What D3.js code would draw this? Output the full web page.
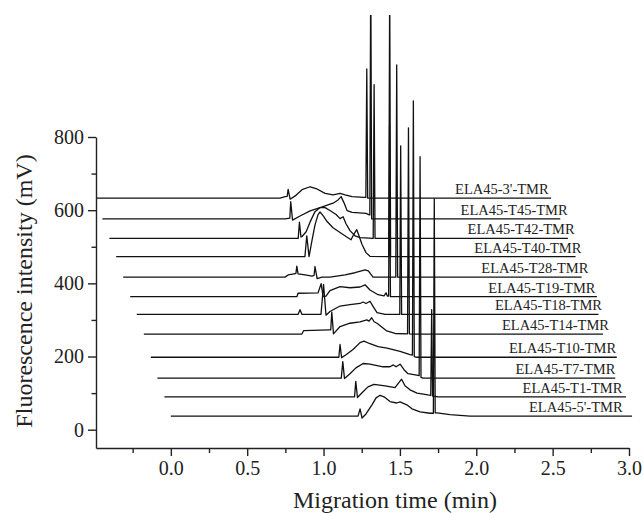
<!DOCTYPE html>
<html>
<head>
<meta charset="utf-8">
<script src="https://cdn.jsdelivr.net/npm/d3@7"></script>
<style>
  body { margin: 0; background: #fff; }
  svg text { font-family: "Liberation Serif", "Times New Roman", serif; fill: #222; }
</style>
</head>
<body>
<svg id="chart" width="643" height="513"></svg>
<script>
// samples, bottom trace first
const sampleNames = ["ELA45-5'-TMR", "ELA45-T1-TMR", "ELA45-T7-TMR", "ELA45-T10-TMR",
  "ELA45-T14-TMR", "ELA45-T18-TMR", "ELA45-T19-TMR", "ELA45-T28-TMR",
  "ELA45-T40-TMR", "ELA45-T42-TMR", "ELA45-T45-TMR", "ELA45-3'-TMR"];
// vertical offset of each trace (mV)
const baselineOffsets = [37, 90, 141, 198, 261, 315, 364, 417, 473, 523, 576, 633];
// first and last time of each trace (min, as plotted)
const startTimes = [0, -0.042, -0.088, -0.131, -0.177, -0.223, -0.266, -0.312, -0.358, -0.402, -0.448, -0.484];
const endTimes = [3.02, 2.98, 2.91, 2.92, 2.83, 2.80, 2.79, 2.69, 2.65, 2.60, 2.55, 2.49];

const xTicks = [0, 0.5, 1.0, 1.5, 2.0, 2.5, 3.0];
const xMinorTicks = [-0.25, 0.25, 0.75, 1.25, 1.75, 2.25, 2.75];
const yTicks = [0, 200, 400, 600, 800];
const yMinorTicks = [100, 300, 500, 700];

// [time, signal above own baseline]
const trace5p = [[1.226, 0], [1.239, 20], [1.252, -5], [1.278, 6], [1.317, 31], [1.344, 50], [1.370, 57],
  [1.396, 53], [1.435, 40], [1.479, 36], [1.501, 39], [1.545, 31], [1.579, 20], [1.632, 12], [1.697, 8],
  [1.719, 8], [1.725, 594], [1.731, 9], [1.743, 9], [1.828, 4], [1.959, 0]];
const traceT1 = [[1.203, 0], [1.211, 42], [1.222, -2], [1.252, 11], [1.291, 27], [1.330, 34], [1.403, 30],
  [1.468, 25], [1.488, 36], [1.511, 48], [1.533, 30], [1.566, 19], [1.612, 10], [1.684, 5],
  [1.702, 4], [1.708, 238], [1.714, 2], [1.75, 0]];
const traceT7 = [[1.116, 0], [1.126, 45], [1.137, -1], [1.173, 12], [1.212, 28], [1.259, 40], [1.304, 38],
  [1.389, 31], [1.435, 31], [1.457, 36], [1.475, 31], [1.501, 38], [1.527, 23], [1.553, 12], [1.610, 8],
  [1.626, 7], [1.632, 605], [1.638, 2], [1.651, 0]];
const traceT10 = [[1.100, 0], [1.108, 35], [1.118, -1], [1.147, 7], [1.193, 21], [1.239, 40], [1.265, 44],
  [1.304, 37], [1.357, 29], [1.416, 25], [1.501, 16], [1.566, 7],
  [1.582, 6], [1.588, 701], [1.594, 2], [1.61, 0]];
const traceT14 = [[0.857, 0], [0.870, 10], [1.036, 12], [1.047, 12], [1.054, 60], [1.065, 1], [1.108, 21],
  [1.173, 30], [1.239, 34], [1.283, 39], [1.298, 36], [1.315, 45], [1.331, 34], [1.350, 30], [1.414, 9],
  [1.468, 2], [1.550, 1], [1.556, 564], [1.562, 1], [1.58, 0]];
const traceT18 = [[0.833, 0], [0.846, 13], [0.859, 0], [0.983, 0], [1.000, 82], [1.016, -2], [1.042, 8],
  [1.108, 23], [1.173, 27], [1.239, 30], [1.259, 34], [1.278, 30], [1.304, 36], [1.324, 22], [1.350, 5],
  [1.403, 0], [1.499, 0], [1.505, 461], [1.511, 0]];
const traceT19 = [[0.826, 0], [0.833, 9], [0.964, 10], [0.984, 35], [0.997, 0], [1.016, 1], [1.042, 16],
  [1.108, 27], [1.173, 24], [1.239, 26], [1.272, 32], [1.304, 18], [1.357, 5], [1.396, 2], [1.409, 10],
  [1.419, 1], [1.426, 1], [1.432, 469], [1.438, 0]];
const traceT28 = [[0.748, 0], [0.768, 6], [0.807, 9], [0.819, 10], [0.825, 30], [0.833, 9], [0.879, 6],
  [0.925, 3], [0.938, 5], [0.944, 29], [0.958, -4], [0.990, 0], [1.042, 0], [1.141, 6], [1.206, 12],
  [1.272, 20], [1.293, 17], [1.324, 0], [1.473, 0], [1.479, 580], [1.485, 0]];
const traceT40 = [[0.878, 0], [0.890, 57], [0.905, 0], [0.925, 46], [0.944, 87], [0.964, 115], [0.977, 122],
  [0.997, 112], [1.023, 96], [1.062, 79], [1.108, 66], [1.147, 55], [1.180, 46], [1.193, 57], [1.217, 74],
  [1.232, 57], [1.252, 33], [1.278, 11], [1.304, 1], [1.427, 0], [1.433, 750], [1.439, 0]];
const traceT42 = [[0.834, 0], [0.842, 44], [0.852, 4], [0.859, 5], [0.886, 18], [0.912, 45], [0.944, 73],
  [0.977, 84], [1.010, 84], [1.042, 76], [1.082, 65], [1.108, 54], [1.128, 59], [1.147, 40], [1.173, 21],
  [1.206, 7], [1.239, 2], [1.325, 0], [1.331, 420], [1.337, 0]];
const traceT45 = [[0.748, 0], [0.779, 2], [0.785, 47], [0.797, -3], [0.846, 8], [0.912, 22], [0.977, 31],
  [1.062, 43], [1.095, 52], [1.115, 61], [1.134, 44], [1.154, 23], [1.187, 18], [1.278, 15], [1.300, 11],
  [1.303, 11], [1.309, 700], [1.315, 0], [1.33, 0]];
const trace3p = [[0.715, 0], [0.748, 4], [0.762, 5], [0.768, 24], [0.781, -3], [0.814, 6], [0.859, 23],
  [0.912, 31], [0.957, 25], [1.010, 13], [1.062, 9], [1.108, 13], [1.141, 9], [1.187, 4], [1.265, 2],
  [1.277, 2], [1.283, 353], [1.289, 0]];

const traces = [trace5p, traceT1, traceT7, traceT10, traceT14, traceT18,
  traceT19, traceT28, traceT40, traceT42, traceT45, trace3p];

const svg = d3.select("#chart");
const x = d3.scaleLinear().domain([-0.49, 3.0]).range([96, 629]);
const y = d3.scaleLinear().domain([-50, 800]).range([448, 137]);

svg.append("clipPath").attr("id", "clip")
  .append("rect").attr("x", 90).attr("y", 15).attr("width", 553).attr("height", 498);

const plot = svg.append("g").attr("clip-path", "url(#clip)");

traces.forEach((pts, i) => {
  const base = baselineOffsets[i];
  const full = [[startTimes[i], 0], ...pts, [endTimes[i], 0]];
  const line = d3.line()
    .x(d => x(d[0]))
    .y(d => y(d[1] + base));
  plot.append("path")
    .datum(full)
    .attr("d", line)
    .attr("fill", "none")
    .attr("stroke", "#111")
    .attr("stroke-width", 1.3)
    .attr("stroke-linejoin", "round");

  // label sits above the right part of its trace
  svg.append("text")
    .attr("x", x(startTimes[i] + 2.345))
    .attr("y", y(base) - 4)
    .attr("font-size", 14.5)
    .text(sampleNames[i]);
});

// axes
function styleAxis(g) {
  g.attr("font-family", "Liberation Serif, Times New Roman, serif").attr("font-size", 20);
  g.selectAll("line, path").attr("stroke", "#222").attr("stroke-width", 1.4);
  g.selectAll("text").attr("fill", "#222");
}

svg.append("g")
  .attr("transform", "translate(0,448)")
  .call(d3.axisBottom(x).tickValues(xTicks).tickFormat(d3.format(".1f"))
    .tickSize(8).tickSizeOuter(0).tickPadding(5))
  .call(styleAxis);

svg.append("g")
  .attr("transform", "translate(0,448)")
  .call(d3.axisBottom(x).tickValues(xMinorTicks).tickFormat("").tickSize(5).tickSizeOuter(0))
  .call(g => g.select(".domain").remove())
  .call(styleAxis);

svg.append("g")
  .attr("transform", "translate(96,0)")
  .call(d3.axisLeft(y).tickValues(yTicks).tickFormat(d3.format("d"))
    .tickSize(8).tickSizeOuter(0).tickPadding(4))
  .call(styleAxis);

svg.append("g")
  .attr("transform", "translate(96,0)")
  .call(d3.axisLeft(y).tickValues(yMinorTicks).tickFormat("").tickSize(4.5).tickSizeOuter(0))
  .call(g => g.select(".domain").remove())
  .call(styleAxis);

svg.append("text")
  .attr("x", 395)
  .attr("y", 508)
  .attr("text-anchor", "middle")
  .attr("font-size", 24)
  .text("Migration time (min)");

svg.append("text")
  .attr("transform", "translate(32,291) rotate(-90)")
  .attr("text-anchor", "middle")
  .attr("font-size", 24)
  .text("Fluorescence intensity (mV)");
</script>
</body>
</html>
